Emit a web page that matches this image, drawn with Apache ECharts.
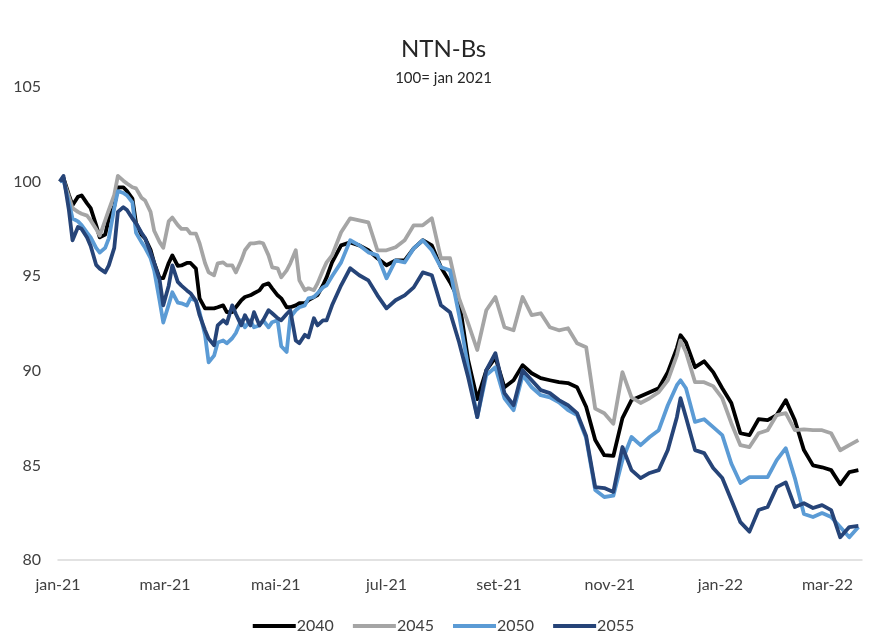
<!DOCTYPE html>
<html>
<head>
<meta charset="utf-8">
<script src="https://cdn.jsdelivr.net/npm/echarts@6/dist/echarts.min.js"></script>
<style>
html,body{margin:0;padding:0;background:#fff;}
#chart{width:887px;height:637px;}
</style>
</head>
<body>
<div id="chart"></div>
<script>
const dates = [
'2021-01-02','2021-01-04','2021-01-07','2021-01-09','2021-01-12','2021-01-14','2021-01-17','2021-01-19','2021-01-22','2021-01-24','2021-01-27','2021-01-29',
'2021-02-01','2021-02-03','2021-02-06','2021-02-08','2021-02-11','2021-02-13','2021-02-16','2021-02-18','2021-02-21','2021-02-23','2021-02-26','2021-02-28',
'2021-03-03','2021-03-05','2021-03-08','2021-03-10','2021-03-13','2021-03-15','2021-03-18','2021-03-20','2021-03-23','2021-03-25','2021-03-28','2021-03-30',
'2021-04-02','2021-04-04','2021-04-07','2021-04-09','2021-04-12','2021-04-14','2021-04-17','2021-04-19','2021-04-22','2021-04-24','2021-04-27','2021-04-29',
'2021-05-02','2021-05-04','2021-05-07','2021-05-09','2021-05-12','2021-05-14','2021-05-17','2021-05-19','2021-05-22','2021-05-24','2021-05-27','2021-05-29',
'2021-06-01','2021-06-06','2021-06-11','2021-06-16','2021-06-21','2021-06-26',
'2021-07-01','2021-07-06','2021-07-11','2021-07-16','2021-07-21','2021-07-26','2021-07-31','2021-08-05','2021-08-10','2021-08-15','2021-08-20','2021-08-25','2021-08-30','2021-09-04','2021-09-09','2021-09-14','2021-09-19',
'2021-09-24','2021-09-29','2021-10-04','2021-10-09','2021-10-14','2021-10-19','2021-10-24','2021-10-29','2021-11-03','2021-11-08','2021-11-13','2021-11-18','2021-11-23','2021-11-28','2021-12-03','2021-12-08','2021-12-10','2021-12-13','2021-12-18',
'2021-12-23','2021-12-28','2022-01-02','2022-01-07','2022-01-12','2022-01-17','2022-01-22','2022-01-27','2022-02-01','2022-02-06','2022-02-11','2022-02-16','2022-02-21','2022-02-26','2022-03-03','2022-03-08','2022-03-13','2022-03-18'
];

const s2040 = [
100,100.2,99.3,98.75,99.2,99.27,98.85,98.6,97.7,97.05,97.2,98.05,
98.7,99.7,99.7,99.5,99.1,97.8,97.2,97.0,96.4,95.7,94.9,94.9,
95.7,96.1,95.55,95.57,95.7,95.7,95.4,93.83,93.3,93.3,93.3,93.36,
93.46,93.1,93.1,93.36,93.73,93.9,93.99,94.1,94.25,94.52,94.62,94.36,
93.99,93.83,93.36,93.36,93.46,93.57,93.57,93.73,93.9,94.0,94.52,94.94,
95.73,96.63,96.79,96.63,96.37,95.95,
95.58,95.84,95.84,96.47,96.9,96.63,95.47,94.68,93.73,90.56,88.5,90.03,90.7,89.13,89.5,90.3,89.87,
89.61,89.5,89.4,89.35,89.13,88.1,86.34,85.54,85.5,87.5,88.45,88.66,88.87,89.08,89.93,91.2,91.88,91.5,90.19,
90.5,89.93,89.08,88.3,86.7,86.6,87.44,87.39,87.66,88.45,87.39,85.81,85.0,84.9,84.75,84.0,84.65,84.75
];
const s2045 = [
100,100.1,99.2,98.6,98.4,98.3,98.2,97.95,97.5,97.15,97.95,98.5,
99.3,100.3,100.05,99.9,99.7,99.64,99.15,99.0,98.4,97.4,96.8,96.5,
97.9,98.1,97.7,97.5,97.5,97.26,97.25,96.74,95.7,95.2,95.05,95.68,
95.73,95.57,95.57,95.2,95.84,96.37,96.74,96.74,96.79,96.74,96.1,95.47,
95.42,94.94,95.31,95.68,96.37,94.78,94.26,94.36,94.26,94.62,95.31,95.73,
96.1,97.32,98.06,97.95,97.85,96.37,
96.37,96.53,96.9,97.69,97.69,98.06,95.95,95.95,93.83,92.51,91.1,93.2,93.9,92.3,92.14,93.9,92.94,
93.04,92.3,92.14,92.25,91.46,91.25,88.0,87.76,87.2,89.93,88.6,88.3,88.55,88.87,89.5,90.82,91.6,90.98,89.4,
89.4,89.19,88.55,87.23,86.07,85.97,86.7,86.86,87.66,87.76,86.86,86.9,86.86,86.86,86.7,85.8,86.07,86.34
];
const s2050 = [
100,100.1,98.9,98.05,97.9,97.7,97.3,97.05,96.5,96.25,96.5,97.0,
98.6,99.5,99.4,99.27,98.9,97.3,96.8,96.5,95.95,95.3,93.7,92.55,
93.5,94.15,93.6,93.57,93.45,93.83,93.7,93.1,91.9,90.45,90.8,91.5,
91.6,91.45,91.72,92.0,92.67,92.3,92.67,92.3,92.4,92.67,92.3,92.57,
92.67,91.3,91.0,92.83,93.2,93.36,93.46,93.83,93.9,94.1,94.41,94.52,
95.0,95.73,96.9,96.63,96.26,96.1,
94.89,95.84,95.73,96.47,96.9,96.37,95.47,95.31,92.94,90.19,87.55,89.77,90.19,88.55,87.92,89.77,89.13,
88.71,88.6,88.34,87.92,87.66,86.44,83.7,83.33,83.4,85.28,86.5,86.07,86.5,86.86,88.18,89.24,89.5,89.08,87.3,
87.44,87.02,86.6,85.1,84.07,84.38,84.38,84.38,85.28,85.91,84.33,82.43,82.27,82.48,82.27,81.74,81.2,81.74
];
const s2055 = [
100,100.3,98.5,96.9,97.6,97.5,97.05,96.6,95.6,95.4,95.2,95.57,
96.5,98.4,98.65,98.5,98.05,97.8,97.3,97.0,96.25,95.7,94.8,93.46,
94.5,95.57,94.7,94.5,94.25,94.1,93.7,92.94,92.15,91.7,91.35,92.4,
92.67,92.5,93.46,93.0,92.4,92.94,92.4,93.1,92.4,92.67,93.2,93.04,
92.78,92.67,93.0,93.2,91.6,91.46,91.9,91.77,92.78,92.4,92.67,92.67,
93.46,94.52,95.42,95.05,94.78,93.99,
93.3,93.73,93.99,94.41,95.2,95.05,93.46,93.1,91.51,89.66,87.55,90.03,90.93,88.82,88.18,90.03,89.5,
88.98,88.82,88.45,88.18,87.76,86.55,83.85,83.8,83.6,85.97,84.75,84.33,84.6,84.75,85.81,87.55,88.55,87.55,85.81,
85.65,84.86,84.33,83.17,82.0,81.5,82.64,82.8,83.85,84.1,82.8,83.0,82.75,82.9,82.64,81.2,81.74,81.8
];

const seriesNames = ['2040','2045','2050','2055'];
const tickDates = ['2021-01-01','2021-03-01','2021-05-01','2021-07-01','2021-09-01','2021-11-01','2022-01-01','2022-03-01'];
const tickLabels = ['jan-21','mar-21','mai-21','jul-21','set-21','nov-21','jan-22','mar-22'];
const yTicks = [80,85,90,95,100,105];
const axisStart = '2021-01-01';
const axisEnd = '2022-03-20';

const DAY = 86400000;
function dayNum(s){
  const p = s.split('-').map(Number);
  const q = axisStart.split('-').map(Number);
  return Math.round((Date.UTC(p[0], p[1]-1, p[2]) - Date.UTC(q[0], q[1]-1, q[2])) / DAY);
}

const colors = ['#000000','#A5A5A5','#5B9BD5','#264478'];
const allValues = [s2040, s2045, s2050, s2055];
const FONT = 'Lato, "Open Sans", sans-serif';
const tickDays = tickDates.map(dayNum);

const chart = echarts.init(document.getElementById('chart'), null, {renderer:'canvas'});
chart.setOption({
  animation: false,
  backgroundColor: '#ffffff',
  title: [
    {text: 'NTN-Bs', left: 'center', top: 32, textStyle: {fontFamily: FONT, fontSize: 24, fontWeight: 'normal', color: '#262626'}},
    {text: '100= jan 2021', left: 'center', top: 66, textStyle: {fontFamily: FONT, fontSize: 15, fontWeight: 'normal', color: '#262626'}}
  ],
  legend: {
    bottom: -2,
    left: 'center',
    itemWidth: 43,
    itemHeight: 4,
    itemGap: 19,
    icon: 'rect',
    data: seriesNames,
    textStyle: {fontFamily: FONT, fontSize: 16, color: '#404040', padding: [0,0,0,-4]}
  },
  grid: {left: 58, right: 25, top: 87, bottom: 77},
  xAxis: {
    type: 'value',
    min: 0,
    max: dayNum(axisEnd),
    axisLine: {show: true, lineStyle: {color: '#D9D9D9', width: 1.5}},
    axisTick: {show: false},
    splitLine: {show: false},
    axisLabel: {
      customValues: tickDays,
      margin: 17,
      fontFamily: FONT, fontSize: 16, color: '#404040',
      formatter: function (v) {
        const i = tickDays.indexOf(Math.round(v));
        return i >= 0 ? tickLabels[i] : '';
      }
    }
  },
  yAxis: {
    type: 'value',
    min: yTicks[0],
    max: yTicks[yTicks.length-1],
    interval: 5,
    axisLine: {show: false},
    axisTick: {show: false},
    splitLine: {show: false},
    axisLabel: {margin: 17, fontFamily: FONT, fontSize: 16, color: '#404040'}
  },
  series: seriesNames.map((name, k) => ({
    name: name,
    type: 'line',
    showSymbol: false,
    symbol: 'none',
    color: colors[k],
    lineStyle: {width: 3.8, color: colors[k], join: 'round'},
    data: dates.map((d, i) => [dayNum(d), allValues[k][i]])
  }))
});
</script>
</body>
</html>
